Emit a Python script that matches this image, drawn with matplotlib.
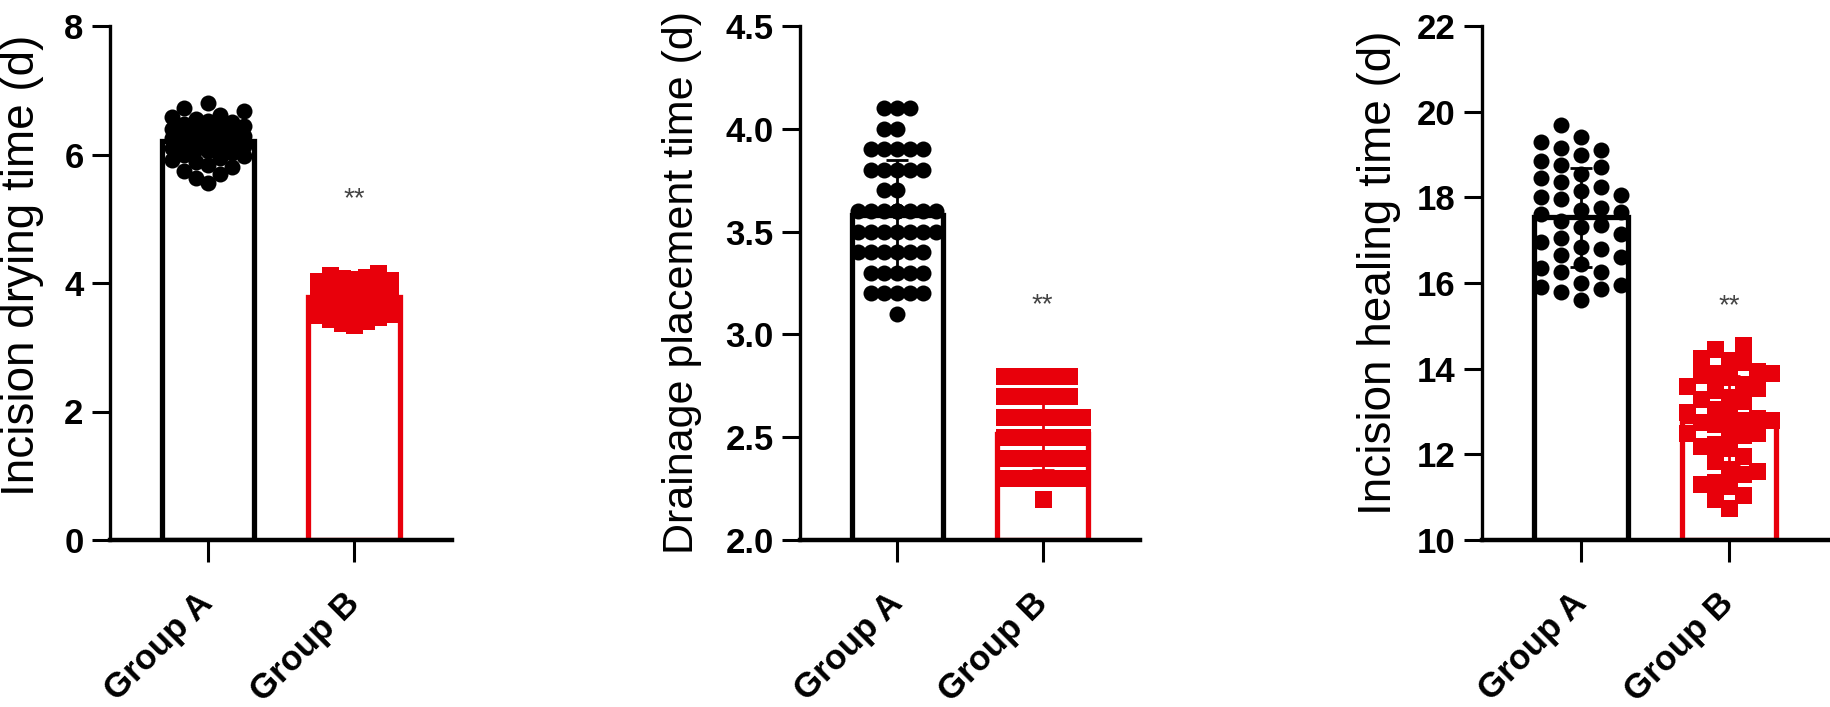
import numpy as np
import matplotlib
matplotlib.use('Agg')
import matplotlib.pyplot as plt

plt.rcParams['font.family'] = ['Liberation Sans', 'DejaVu Sans']

groups = ['Group A', 'Group B']

# incision drying time (d)
drying_a = [6.80, 6.72, 6.68, 6.62, 6.58, 6.55, 6.52, 6.50, 6.47, 6.45,
            6.43, 6.40, 6.38, 6.36, 6.33, 6.31, 6.29, 6.27, 6.25, 6.22,
            6.20, 6.18, 6.16, 6.14, 6.12, 6.10, 6.08, 6.05, 6.03, 6.00,
            5.98, 5.95, 5.92, 5.88, 5.84, 5.80, 5.75, 5.70, 5.63, 5.56]
drying_b = [4.15, 4.12, 4.10, 4.08, 4.06, 4.05, 4.03, 4.02, 4.00, 3.98,
            3.97, 3.95, 3.94, 3.92, 3.90, 3.89, 3.87, 3.86, 3.84, 3.82,
            3.80, 3.78, 3.76, 3.74, 3.72, 3.70, 3.68, 3.66, 3.64, 3.62,
            3.60, 3.58, 3.55, 3.52, 3.50, 3.47, 3.44, 3.41, 3.38, 3.35]

# drainage placement time (d)
drain_a = [4.1, 4.1, 4.1, 4.0, 4.0, 3.9, 3.9, 3.9, 3.9, 3.9,
           3.8, 3.8, 3.8, 3.8, 3.8, 3.7, 3.7,
           3.6, 3.6, 3.6, 3.6, 3.6, 3.6, 3.6, 3.6, 3.6,
           3.5, 3.5, 3.5, 3.5, 3.5, 3.5, 3.5,
           3.4, 3.4, 3.4, 3.4, 3.4, 3.4,
           3.3, 3.3, 3.3, 3.3, 3.3,
           3.2, 3.2, 3.2, 3.2, 3.2, 3.1]
drain_b = [2.8, 2.8, 2.8, 2.8, 2.8, 2.8, 2.7, 2.7, 2.7, 2.7, 2.7, 2.7,
           2.6, 2.6, 2.6, 2.6, 2.6, 2.6, 2.6, 2.6, 2.6,
           2.5, 2.5, 2.5, 2.5, 2.5, 2.5, 2.5, 2.5, 2.5,
           2.4, 2.4, 2.4, 2.4, 2.4, 2.4, 2.4, 2.4, 2.4,
           2.3, 2.3, 2.3, 2.3, 2.3, 2.3, 2.3, 2.3, 2.3, 2.3, 2.2]

# incision healing time (d)
heal_a = [19.7, 19.3, 18.85, 18.45, 18.05, 17.65, 17.3, 16.85, 16.45, 16.0,
          19.1, 18.7, 18.0, 17.6, 16.8, 15.8,
          19.15, 18.35, 17.95, 17.45, 17.05, 16.65, 16.25, 15.85,
          19.4, 19.0, 18.55, 18.15, 17.7, 17.15, 16.35, 15.95,
          18.75, 18.25, 17.75, 17.35, 16.95, 16.6, 16.25, 15.9, 15.6]
heal_b = [14.55, 14.45, 14.25, 14.2, 14.15, 13.95, 13.9, 13.9, 13.85, 13.8,
          13.65, 13.6, 13.55, 13.5, 13.35, 13.3, 13.25, 13.05, 13.0, 12.95,
          12.85, 12.8, 12.8, 12.75, 12.7, 12.55, 12.5, 12.5, 12.45, 12.25,
          12.2, 12.15, 11.95, 11.85, 11.65, 11.6, 11.55, 11.35, 11.3, 11.25,
          11.05, 10.95, 10.75]

ylabels = ['Incision drying time (d)', 'Drainage placement time (d)',
           'Incision healing time (d)']
ylims = [(0, 8), (2.0, 4.5), (10, 22)]
yticks = [[0, 2, 4, 6, 8], [2.0, 2.5, 3.0, 3.5, 4.0, 4.5],
          [10, 12, 14, 16, 18, 20, 22]]
ytick_fmt = ['{:.0f}', '{:.1f}', '{:.0f}']
star_y = [5.3, 3.14, 15.45]

BLACK = '#000000'
RED = '#e8000b'


def swarm(vals, ppu_y, ppu_x, step_px, diam_px, ncol):
    # column-style beeswarm like GraphPad scatter
    vals = np.asarray(vals, float)
    cols = [0]
    for k in range(1, ncol + 1):
        cols += [-k, k]
    placed = {c: [] for c in cols}
    off = np.zeros(len(vals))
    for i in np.argsort(vals, kind='stable'):
        y = vals[i] * ppu_y
        best, best_gap = cols[0], -1.0
        for c in cols:
            gap = min((abs(y - v) for v in placed[c]), default=np.inf)
            if gap >= diam_px:
                best = c
                break
            if gap > best_gap:
                best, best_gap = c, gap
        placed[best].append(y)
        off[i] = best * step_px / ppu_x
    return off


W, H, DPI = 18.31, 7.07, 100
fig = plt.figure(figsize=(W, H), dpi=DPI)

lefts = [110, 800, 1482]
widths = [342, 340, 346]
bottom_px, height_px = 167, 514
xlim = (-0.67, 1.67)
label_x = [-0.193, -0.287, -0.233]
label_y = [0.535, 0.5, 0.52]
label_size = [33, 31, 33]

data = [(drying_a, drying_b), (drain_a, drain_b), (heal_a, heal_b)]
steps = [(12, 12), (13, 13), (20, 14)]
ncols = [(3, 3), (3, 3), (2, 3)]

for p in range(3):
    ax = fig.add_axes([lefts[p] / (W * DPI), bottom_px / (H * DPI),
                       widths[p] / (W * DPI), height_px / (H * DPI)])
    ax.set_xlim(*xlim)
    ax.set_ylim(*ylims[p])
    ppu_y = height_px / (ylims[p][1] - ylims[p][0])
    ppu_x = widths[p] / (xlim[1] - xlim[0])

    for g, (vals, col, mk, ms) in enumerate([(data[p][0], BLACK, 'o', 16),
                                             (data[p][1], RED, 's', 17)]):
        vals = np.asarray(vals)
        m, sd = vals.mean(), vals.std(ddof=1)
        ax.bar(g, m - ylims[p][0], bottom=ylims[p][0], width=0.63,
               facecolor='white', edgecolor=col, linewidth=3.8, zorder=1)
        ax.errorbar(g, m, yerr=sd, color=col, elinewidth=2, capsize=8,
                    capthick=2, zorder=2)
        xo = swarm(vals, ppu_y, ppu_x, steps[p][g], ms, ncols[p][g])
        ax.scatter(g + xo, vals, s=(ms * 0.72) ** 2, marker=mk, color=col,
                   linewidths=0, zorder=3, clip_on=False)

    ax.text(1, star_y[p], '**', ha='center', va='center', fontsize=20,
            color='#444444')

    for s in ['top', 'right']:
        ax.spines[s].set_visible(False)
    ax.spines['left'].set_linewidth(2.4)
    ax.spines['bottom'].set_linewidth(3.2)

    ax.set_yticks(yticks[p])
    ax.set_yticklabels([ytick_fmt[p].format(t) for t in yticks[p]],
                       fontsize=25, fontweight='bold')
    ax.tick_params(axis='y', length=13, width=2.2, pad=6)
    ax.set_xticks([0, 1])
    ax.set_xticklabels(groups, fontsize=25, fontweight='bold', rotation=45,
                       ha='right', va='center', rotation_mode='anchor')
    ax.tick_params(axis='x', length=16, width=2.2, pad=26)

    ax.set_ylabel(ylabels[p], fontsize=label_size[p])
    ax.yaxis.set_label_coords(label_x[p], label_y[p])

fig.savefig('out.png', dpi=DPI, facecolor='white')
